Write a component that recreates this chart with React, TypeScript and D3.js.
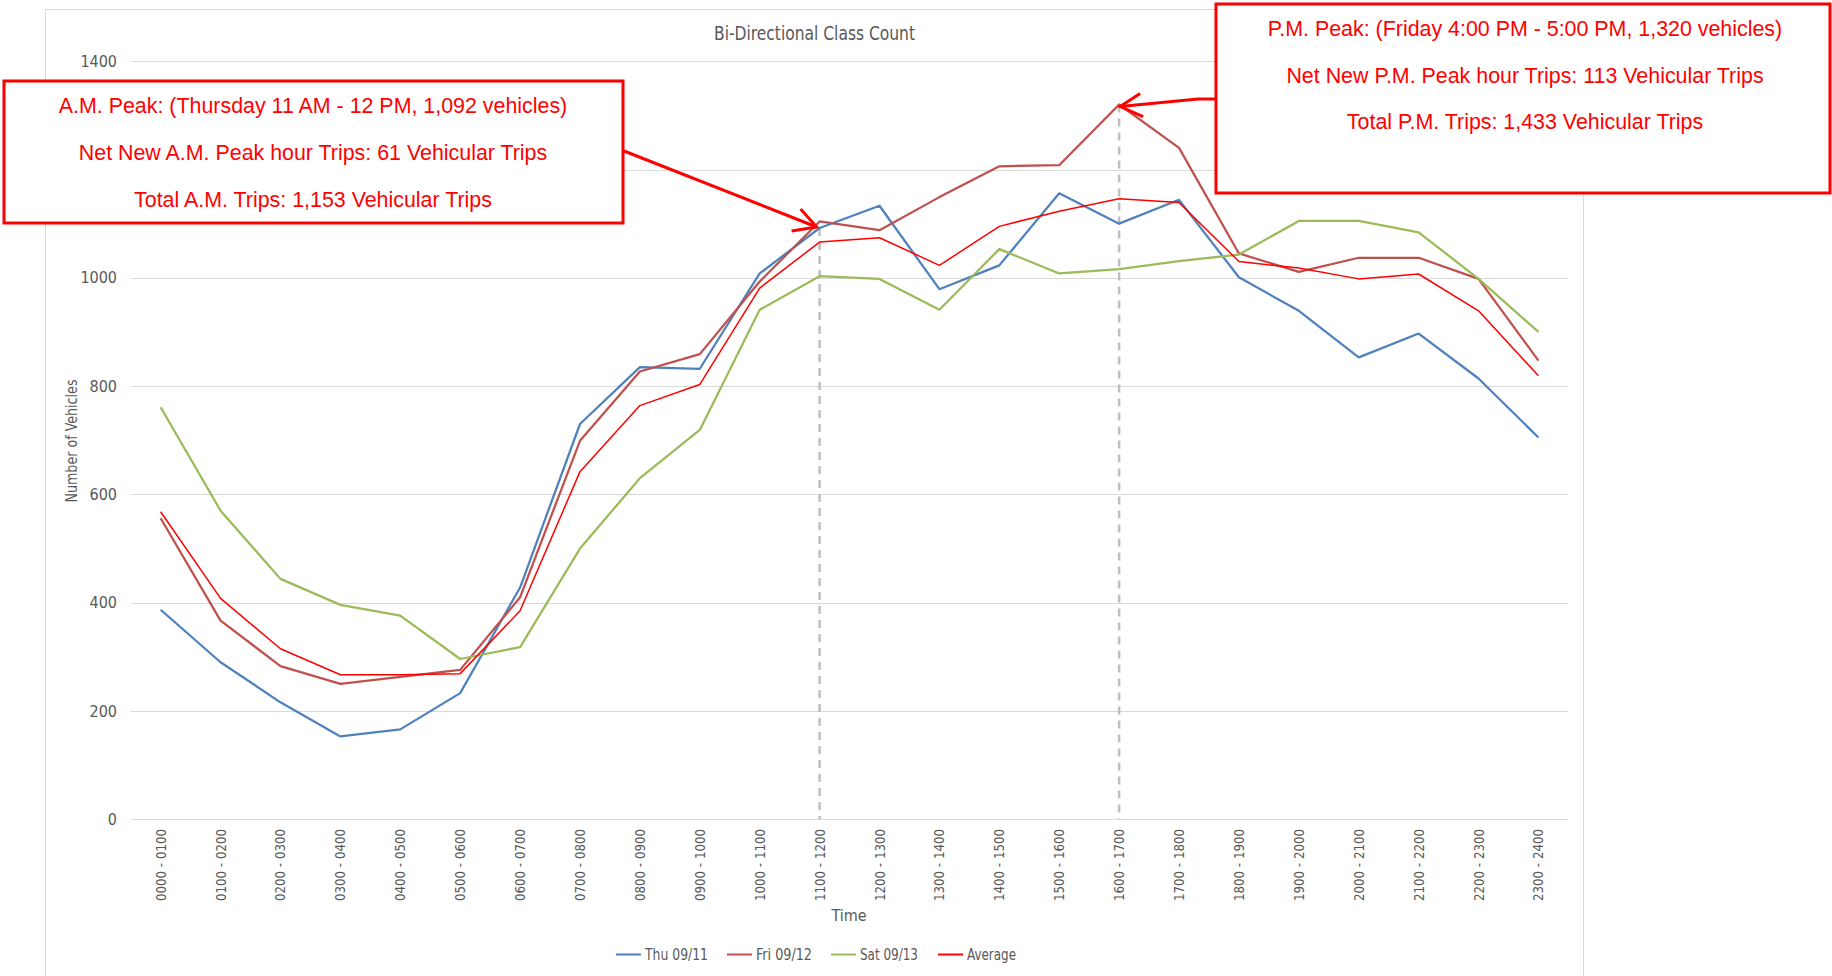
import React from "react";
import * as d3 from "d3";

// hourly bi-directional counts
const hours = [
  "0000 - 0100", "0100 - 0200", "0200 - 0300", "0300 - 0400", "0400 - 0500", "0500 - 0600",
  "0600 - 0700", "0700 - 0800", "0800 - 0900", "0900 - 1000", "1000 - 1100", "1100 - 1200",
  "1200 - 1300", "1300 - 1400", "1400 - 1500", "1500 - 1600", "1600 - 1700", "1700 - 1800",
  "1800 - 1900", "1900 - 2000", "2000 - 2100", "2100 - 2200", "2200 - 2300", "2300 - 2400",
];
const thu = [387, 290, 216, 153, 166, 233, 428, 730, 835, 832, 1008, 1092, 1133, 979, 1023, 1156, 1100, 1144, 1001, 939, 853, 897, 814, 705];
const fri = [556, 367, 283, 250, 263, 276, 410, 699, 827, 859, 993, 1104, 1088, 1149, 1206, 1208, 1320, 1240, 1045, 1011, 1037, 1037, 998, 847];
const sat = [761, 570, 444, 396, 376, 296, 318, 500, 630, 719, 941, 1003, 998, 941, 1053, 1008, 1016, 1031, 1043, 1105, 1105, 1084, 998, 900];
const avg = [568, 408, 315, 267, 267, 269, 385, 642, 764, 803, 981, 1066, 1074, 1023, 1095, 1123, 1146, 1139, 1030, 1018, 998, 1007, 939, 819];
const yTicks = [0, 200, 400, 600, 800, 1000, 1200, 1400];

const series = [
  { name: "Thu 09/11", values: thu, color: "#4f81bd", width: 2.25 },
  { name: "Fri 09/12", values: fri, color: "#c0504d", width: 2.25 },
  { name: "Sat 09/13", values: sat, color: "#9bbb59", width: 2.25 },
  { name: "Average", values: avg, color: "#ff0000", width: 1.5 },
];

const amText = [
  "A.M. Peak: (Thursday 11 AM - 12 PM, 1,092 vehicles)",
  "Net New A.M. Peak hour Trips: 61 Vehicular Trips",
  "Total A.M. Trips: 1,153 Vehicular Trips",
];
const pmText = [
  "P.M. Peak: (Friday 4:00 PM - 5:00 PM, 1,320 vehicles)",
  "Net New P.M. Peak hour Trips: 113 Vehicular Trips",
  "Total P.M. Trips: 1,433 Vehicular Trips",
];

const narrow = "'Liberation Sans Narrow', 'DejaVu Sans Condensed', 'Liberation Sans', sans-serif";
const arial = "'Liberation Sans', Arial, sans-serif";
const grey = "#595959";

export default function App() {
  const W = 1832, H = 976;
  const x = d3.scaleBand<string>().domain(hours).range([130.7, 1568.4]);
  const cx = (h: string) => (x(h) ?? 0) + x.bandwidth() / 2;
  const y = d3.scaleLinear().domain([0, 1400]).range([819.3, 61.2]);
  const line = d3.line<number>().x((_, i) => cx(hours[i])).y((d) => y(d));

  const amX = cx(hours[11]);
  const pmX = cx(hours[16]);
  const red = "#ff0000";
  // A.M. callout box covers part of the y axis
  const amBox = { x: 4, y: 81, w: 619, h: 142 };
  const hidden = (t: number) => y(t) > amBox.y - 6 && y(t) < amBox.y + amBox.h + 6;

  return (
    <svg width={W} height={H} style={{ position: "absolute", left: 0, top: 0, background: "#fff" }}>
      <rect x={0} y={0} width={W} height={H} fill="#fff" />
      <rect x={45.5} y={9.5} width={1538} height={1000} fill="none" stroke="#d9d9d9" strokeWidth={1} />

      <text x={814.5} y={40} textAnchor="middle" fontFamily={narrow} fontSize={19} textLength={201} lengthAdjust="spacingAndGlyphs" fill={grey}>
        Bi-Directional Class Count
      </text>

      {yTicks.map((t) => (
        <g key={t}>
          <line x1={130.7} x2={1568.4} y1={Math.round(y(t)) + 0.5} y2={Math.round(y(t)) + 0.5} stroke="#d9d9d9" strokeWidth={1} />
          {!hidden(t) && (
            <text x={117} y={y(t) + 5.5} textAnchor="end" fontFamily={narrow} fontSize={16} fill={grey}>
              {t}
            </text>
          )}
        </g>
      ))}

      {hours.map((h) => (
        <text
          key={h}
          transform={`translate(${cx(h) + 5},829) rotate(-90)`}
          textAnchor="end"
          fontFamily="'DejaVu Sans', sans-serif"
          fontSize={14}
          textLength={72}
          lengthAdjust="spacingAndGlyphs"
          fill={grey}
        >
          {h}
        </text>
      ))}

      <text transform="translate(77,441) rotate(-90)" textAnchor="middle" fontFamily={narrow} fontSize={16} textLength={123} lengthAdjust="spacingAndGlyphs" fill={grey}>
        Number of Vehicles
      </text>
      <text x={849} y={921} textAnchor="middle" fontFamily={narrow} fontSize={16} fill={grey}>
        Time
      </text>

      {/* peak markers */}
      <line x1={amX} x2={amX} y1={y(1092)} y2={y(0)} stroke="#bfbfbf" strokeWidth={2.5} strokeDasharray="8,6" />
      <line x1={pmX} x2={pmX} y1={y(1320)} y2={y(0)} stroke="#bfbfbf" strokeWidth={2.5} strokeDasharray="8,6" />

      {series.map((s) => (
        <path key={s.name} d={line(s.values) ?? ""} fill="none" stroke={s.color} strokeWidth={s.width} strokeLinejoin="round" />
      ))}

      {/* legend */}
      {series.map((s, i) => {
        const lx = [616, 727, 831, 938][i];
        const tl = [63, 56, 58, 49][i];
        return (
          <g key={s.name}>
            <line x1={lx} x2={lx + 25} y1={954.5} y2={954.5} stroke={s.color} strokeWidth={2} />
            <text x={lx + 29} y={960} fontFamily={narrow} fontSize={16} textLength={tl} lengthAdjust="spacingAndGlyphs" fill={grey}>
              {s.name}
            </text>
          </g>
        );
      })}

      {/* A.M. callout */}
      <rect x={amBox.x} y={amBox.y} width={amBox.w} height={amBox.h} fill="#fff" stroke={red} strokeWidth={3} />
      {amText.map((t, i) => (
        <text key={t} x={313} y={[105, 152, 199][i] + 7.5} textAnchor="middle" fontFamily={arial} fontSize={21.4} fill={red}>
          {t}
        </text>
      ))}
      <line x1={624} y1={151} x2={amX - 3} y2={y(1092) - 1} stroke={red} strokeWidth={3} />
      <polyline points={`${amX - 19},${y(1092) - 19} ${amX - 3},${y(1092) - 1} ${amX - 28},${y(1092) + 3}`} fill="none" stroke={red} strokeWidth={3} />

      {/* P.M. callout */}
      <rect x={1216} y={4} width={614} height={189} fill="#fff" stroke={red} strokeWidth={3} />
      {pmText.map((t, i) => (
        <text key={t} x={1525} y={[28, 75, 121.5][i] + 7.5} textAnchor="middle" fontFamily={arial} fontSize={21.4} fill={red}>
          {t}
        </text>
      ))}
      <polyline points={`1215,99 1198,99 ${pmX + 1},${y(1320) + 2}`} fill="none" stroke={red} strokeWidth={3} />
      <polyline points={`${pmX + 21},${y(1320) - 11} ${pmX + 1},${y(1320) + 2} ${pmX + 24},${y(1320) + 12}`} fill="none" stroke={red} strokeWidth={3} />
    </svg>
  );
}
